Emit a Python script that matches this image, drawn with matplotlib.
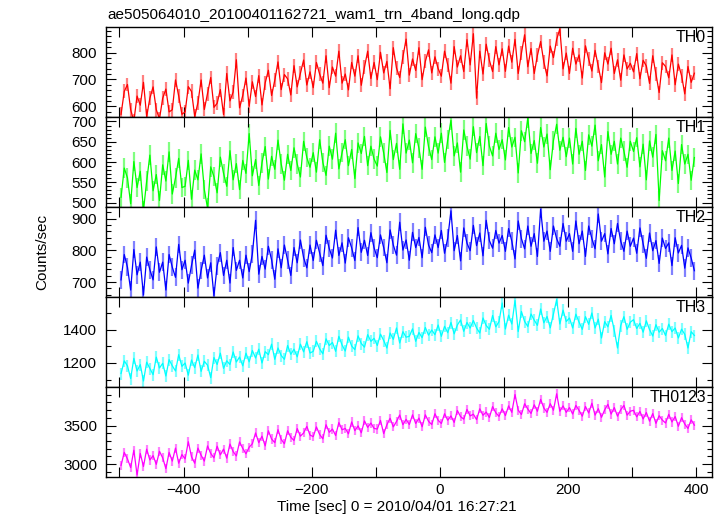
import numpy as np
import matplotlib
matplotlib.use("Agg")
import matplotlib.pyplot as plt
from matplotlib.ticker import MultipleLocator

plt.rcParams['font.family'] = ['Liberation Sans', 'DejaVu Sans']

title = "ae505064010_20100401162721_wam1_trn_4band_long.qdp"
xlabel = "Time [sec] 0 = 2010/04/01 16:27:21"
ylabel = "Counts/sec"

# light curve bins: 5 s wide, first bin starts at -500 s
t_first = -500
bin_sec = 5

bands = ["TH0", "TH1", "TH2", "TH3", "TH0123"]

# rates, one row = 100 s
th0 = [570, 655, 681, 587, 545, 638, 604, 689, 562, 630, 672, 587, 553, 630, 664, 579, 587, 698, 638, 570,
       579, 673, 655, 562, 613, 698, 588, 647, 707, 596, 611, 662, 569, 722, 620, 653, 773, 594, 640, 705,
       600, 691, 636, 714, 605, 687, 734, 640, 697, 765, 662, 718, 702, 642, 751, 672, 723, 772, 679, 728,
       669, 763, 720, 686, 788, 669, 746, 712, 805, 686, 720, 661, 763, 712, 788, 678, 746, 805, 703, 763,
       699, 801, 724, 767, 665, 818, 742, 707, 784, 850, 716, 776, 733, 818, 699, 767, 810, 724, 784, 740,
       712, 805, 754, 686, 822, 746, 788, 729, 848, 754, 870, 630, 805, 720, 831, 771, 729, 822, 754, 814,
       730, 824, 764, 849, 722, 798, 866, 747, 815, 722, 790, 841, 764, 713, 824, 781, 849, 888, 739, 798,
       722, 816, 757, 791, 705, 825, 775, 731, 808, 748, 688, 799, 757, 816, 722, 773, 697, 791, 739, 760,
       728, 796, 702, 771, 750, 685, 788, 719, 651, 762, 748, 706, 791, 680, 757, 714, 646, 748, 689, 723]

th1 = [513, 585, 561, 497, 601, 537, 577, 481, 553, 617, 529, 569, 505, 593, 553, 625, 521, 561, 609, 537,
       540, 604, 508, 580, 556, 620, 532, 486, 588, 564, 524, 612, 572, 540, 628, 556, 596, 532, 604, 572,
       670, 566, 606, 542, 598, 638, 558, 614, 582, 654, 595, 555, 619, 579, 635, 595, 563, 651, 611, 587,
       623, 575, 655, 599, 567, 639, 607, 671, 583, 623, 655, 591, 631, 559, 647, 621, 663, 591, 639, 607,
       590, 662, 622, 574, 678, 606, 646, 582, 694, 622, 654, 598, 670, 634, 582, 686, 638, 606, 662, 622,
       671, 599, 655, 703, 615, 647, 575, 679, 639, 607, 687, 623, 663, 591, 695, 639, 615, 671, 631, 655,
       605, 685, 637, 661, 573, 677, 650, 709, 621, 653, 597, 685, 637, 669, 581, 653, 693, 629, 661, 613,
       659, 595, 683, 619, 651, 579, 667, 639, 691, 603, 643, 563, 675, 619, 651, 595, 659, 627, 587, 651,
       626, 660, 588, 644, 556, 652, 612, 668, 505, 628, 603, 659, 579, 627, 547, 643, 595, 619, 555, 611]

th2 = [707, 787, 747, 675, 803, 723, 763, 659, 779, 739, 707, 811, 731, 763, 675, 787, 747, 715, 819, 739,
       769, 697, 753, 801, 681, 737, 785, 713, 761, 657, 751, 793, 721, 769, 697, 809, 737, 769, 713, 785,
       733, 789, 895, 725, 781, 741, 813, 770, 709, 805, 745, 817, 769, 721, 809, 761, 833, 777, 745, 817,
       768, 832, 792, 752, 848, 806, 776, 864, 784, 824, 760, 840, 808, 768, 872, 794, 832, 784, 856, 808,
       777, 849, 809, 761, 865, 817, 785, 889, 801, 833, 769, 857, 809, 841, 777, 873, 817, 793, 849, 809,
       863, 791, 839, 925, 799, 847, 767, 871, 823, 799, 879, 815, 855, 783, 895, 831, 807, 863, 823, 847,
       797, 869, 829, 773, 893, 837, 805, 877, 813, 853, 781, 930, 829, 861, 797, 877, 837, 813, 885, 829,
       853, 797, 893, 821, 861, 781, 877, 837, 805, 915, 829, 853, 789, 869, 821, 885, 829, 797, 861, 813,
       839, 791, 871, 821, 775, 855, 799, 831, 759, 839, 806, 824, 752, 840, 792, 816, 744, 808, 776, 736]

th3 = [1137, 1213, 1183, 1107, 1228, 1152, 1190, 1092, 1205, 1167, 1130, 1235, 1170, 1198, 1122, 1220, 1183, 1152, 1250, 1180,
       1200, 1127, 1218, 1172, 1248, 1150, 1210, 1187, 1112, 1233, 1191, 1259, 1168, 1213, 1191, 1266, 1206, 1236, 1183, 1259,
       1207, 1275, 1230, 1283, 1200, 1268, 1250, 1313, 1222, 1290, 1245, 1222, 1305, 1252, 1283, 1237, 1313, 1267, 1328, 1260,
       1270, 1330, 1285, 1255, 1345, 1305, 1323, 1270, 1360, 1308, 1272, 1355, 1302, 1280, 1363, 1317, 1295, 1370, 1330, 1348,
       1305, 1373, 1335, 1290, 1380, 1342, 1410, 1320, 1388, 1355, 1360, 1405, 1330, 1383, 1352, 1413, 1367, 1398, 1370, 1428,
       1360, 1420, 1382, 1443, 1375, 1428, 1458, 1390, 1443, 1410, 1455, 1410, 1380, 1470, 1425, 1402, 1485, 1417, 1448, 1560,
       1404, 1487, 1434, 1575, 1389, 1509, 1449, 1419, 1494, 1457, 1426, 1524, 1441, 1479, 1411, 1494, 1580, 1434, 1517, 1449,
       1470, 1410, 1493, 1445, 1402, 1478, 1432, 1500, 1410, 1463, 1350, 1448, 1417, 1485, 1395, 1290, 1425, 1478, 1402, 1445,
       1460, 1407, 1438, 1385, 1453, 1400, 1362, 1430, 1385, 1407, 1365, 1433, 1388, 1410, 1350, 1403, 1372, 1290, 1388, 1365]

th0123 = [2984, 3152, 3068, 2956, 3180, 2860, 3138, 2970, 3194, 3054, 3110, 2998, 3166, 3082, 2942, 3152, 3040, 3208, 3012, 3124,
          3068, 3290, 3096, 3012, 3208, 3115, 3040, 3236, 3138, 3082, 3232, 3120, 3195, 3078, 3260, 3162, 3106, 3288, 3204, 3134,
          3220, 3264, 3404, 3278, 3362, 3236, 3432, 3325, 3278, 3446, 3320, 3264, 3432, 3348, 3306, 3460, 3362, 3404, 3488, 3376,
          3356, 3482, 3384, 3328, 3510, 3412, 3454, 3370, 3538, 3445, 3462, 3392, 3546, 3434, 3495, 3406, 3560, 3476, 3532, 3462,
          3454, 3566, 3395, 3510, 3594, 3482, 3552, 3636, 3510, 3580, 3512, 3638, 3526, 3596, 3484, 3638, 3554, 3512, 3652, 3568,
          3526, 3652, 3568, 3624, 3540, 3694, 3615, 3582, 3708, 3624, 3646, 3576, 3716, 3632, 3674, 3604, 3744, 3665, 3618, 3716,
          3628, 3754, 3670, 3900, 3698, 3642, 3782, 3712, 3656, 3768, 3684, 3838, 3726, 3670, 3782, 3698, 3910, 3684, 3754, 3670,
          3732, 3648, 3760, 3695, 3620, 3746, 3662, 3788, 3634, 3718, 3606, 3704, 3774, 3648, 3732, 3620, 3704, 3760, 3634, 3685,
          3696, 3612, 3682, 3584, 3668, 3556, 3654, 3528, 3626, 3570, 3532, 3644, 3546, 3616, 3490, 3602, 3518, 3462, 3574, 3504]

# typical error bar size per band
errs = [26, 24, 28, 36, 59]

rates = [th0, th1, th2, th3, th0123]

ylims = [(560, 895), (489, 711), (653, 937), (1056, 1596), (2834, 3998)]
majors = [100, 50, 100, 200, 500]
minors = [20, 10, 20, 100, 100]
colors = ["#ff0000", "#00ff00", "#0000ff", "#00ffff", "#ff00ff"]
lights = ["#ff8080", "#80ff80", "#8080ff", "#80ffff", "#ff80ff"]

fig = plt.figure(figsize=(7.23, 5.16), dpi=100)
left, right = 106 / 723, 712 / 723
top, bottom = 1 - 27 / 516, 1 - 477 / 516
h = (top - bottom) / 5

for i in range(5):
    ax = fig.add_axes([left, top - (i + 1) * h, right - left, h])
    y = np.array(rates[i], dtype=float)
    t = t_first + bin_sec * (np.arange(len(y)) + 0.5)
    ax.errorbar(t, y, yerr=errs[i], fmt='none', ecolor=lights[i],
                elinewidth=1.6, zorder=1)
    ax.plot(t, y, color=colors[i], lw=0.9, zorder=2)

    ax.set_xlim(-521, 425)
    ax.set_ylim(*ylims[i])
    ax.xaxis.set_major_locator(MultipleLocator(200))
    ax.xaxis.set_minor_locator(MultipleLocator(100))
    ax.yaxis.set_major_locator(MultipleLocator(majors[i]))
    ax.yaxis.set_minor_locator(MultipleLocator(minors[i]))
    ax.tick_params(which='both', direction='in', top=True, right=True,
                   labelsize=11, width=0.8)
    ax.tick_params(axis='y', pad=6.5)
    ax.tick_params(axis='x', pad=4)
    ax.tick_params(which='major', length=7)
    ax.tick_params(which='minor', length=3.5)
    ax.tick_params(axis='x', which='minor', length=7)
    for s in ax.spines.values():
        s.set_linewidth(1.0)
    if i < 4:
        ax.tick_params(labelbottom=False)
    ax.text(0.99, 0.965, bands[i], transform=ax.transAxes, ha='right',
            va='top', fontsize=11.5)

fig.text(107 / 723, 1 - 18.5 / 516, title, fontsize=11, va='baseline')
fig.text(397 / 723, 1 - 511 / 516, xlabel, fontsize=11, ha='center',
         va='baseline')
fig.text(42 / 723, 1 - 252 / 516, ylabel, fontsize=11, rotation=90,
         ha='center', va='center')

fig.savefig("out.png", dpi=100)
